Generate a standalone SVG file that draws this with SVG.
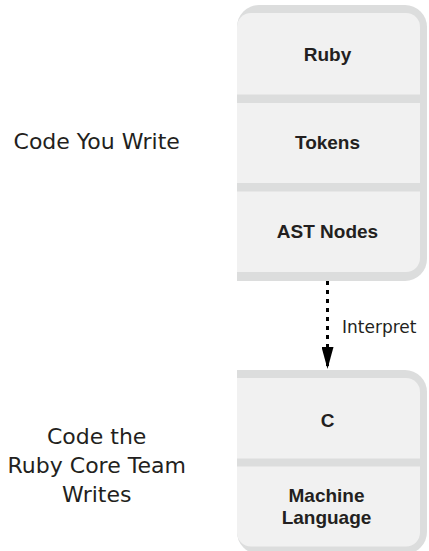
<svg xmlns="http://www.w3.org/2000/svg" width="429" height="551" viewBox="0 0 429 551">
<style>
.frame{fill:#dcdddd}
.cell{fill:#f1f1f1}
.lbl{font-family:"Liberation Sans",Arial,sans-serif;font-weight:bold;font-size:19px;fill:#231f20;text-anchor:middle}
.side{font-family:"DejaVu Sans",sans-serif;font-size:22px;fill:#231f20;text-anchor:middle}
.edge{font-family:"DejaVu Sans",sans-serif;font-size:17px;fill:#231f20}
</style>
<defs>
<marker id="arrow" markerUnits="userSpaceOnUse" markerWidth="22" markerHeight="12" refX="22" refY="6" orient="auto" viewBox="0 0 22 12">
<path d="M0,0 L22,6 L0,12 Z" fill="#000"/>
</marker>
</defs>
<g id="label-code-you-write">
<text class="side" x="96.7" y="149.3">Code You Write</text>
</g>
<g id="label-core-team">
<text class="side" x="96.7" y="444.3">Code the</text>
<text class="side" x="96.7" y="473.3">Ruby Core Team</text>
<text class="side" x="96.7" y="501.7">Writes</text>
</g>
<g id="upper-stack">
<path class="frame" d="M237,281 L237,27 A22,22 0 0 1 259,5 L405,5 A22,22 0 0 1 427,27 L427,259 A22,22 0 0 1 405,281 Z"/>
<g id="node-ruby">
<path class="cell" d="M237,94.5 L237,27 A14,14 0 0 1 251,13 L406,13 A14,14 0 0 1 420,27 L420,94.5 Z"/>
<text class="lbl" x="327.5" y="61">Ruby</text>
</g>
<g id="node-tokens">
<rect class="cell" x="237" y="103" width="183" height="80"/>
<text class="lbl" x="327.5" y="148.5">Tokens</text>
</g>
<g id="node-ast">
<path class="cell" d="M237,191.5 L420,191.5 L420,258 A14,14 0 0 1 406,272 L237,272 Z"/>
<text class="lbl" x="327.5" y="237.5">AST Nodes</text>
</g>
</g>
<g id="lower-stack">
<path class="frame" d="M237,370 L405,370 A22,22 0 0 1 427,392 L427,532 A22,22 0 0 1 405,554 L259,554 A22,22 0 0 1 237,532 Z"/>
<g id="node-c">
<path class="cell" d="M237,378 L406,378 A14,14 0 0 1 420,392 L420,458.5 L237,458.5 Z"/>
<text class="lbl" x="327.5" y="426.5">C</text>
</g>
<g id="node-machine">
<path class="cell" d="M237,466.5 L420,466.5 L420,532.5 A14,14 0 0 1 406,546.5 L251,546.5 A14,14 0 0 1 237,532.5 Z"/>
<text class="lbl" x="326.5" y="501.7">Machine</text>
<text class="lbl" x="326.5" y="524">Language</text>
</g>
</g>
<g id="connectors">
<line x1="327.5" y1="281" x2="327.5" y2="369" stroke="#000" stroke-width="3" stroke-dasharray="4 5" marker-end="url(#arrow)"/>
<text class="edge" x="342" y="332.7">Interpret</text>
</g>
</svg>
